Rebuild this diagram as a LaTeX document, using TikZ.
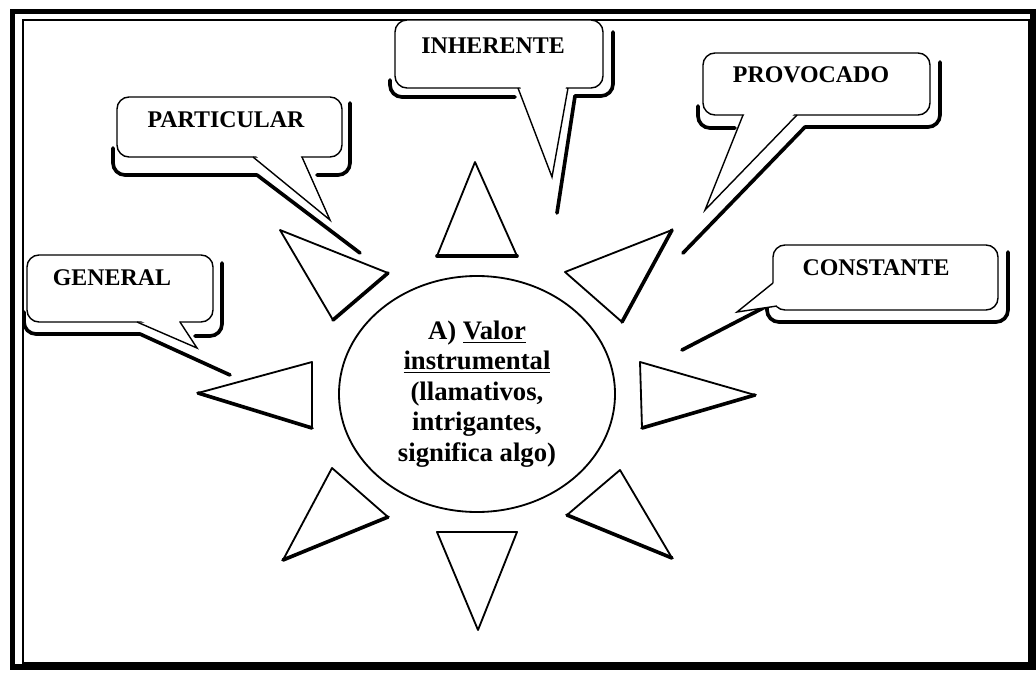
\documentclass[tikz,border=0pt]{standalone}
\usepackage{fontspec}
\setmainfont{Liberation Serif}
\usetikzlibrary{shapes.geometric}

\begin{document}
\begin{tikzpicture}[x=0.25mm,y=-0.25mm,
  marco/.style={line width=4.2pt},
  globo/.style={draw,fill=white,line width=1pt,rounded corners=3mm},
  punta/.style={line width=1pt,line join=miter},
  sombra/.style={line width=2.6pt,line cap=round},
  rayo/.style={line width=1.3pt,line join=round},
  rayoborde/.style={line width=2.6pt,line cap=round},
  rotulo/.style={anchor=base,font=\fontsize{17}{20}\selectfont\bfseries}]
\useasboundingbox (0,0) rectangle (1036,673);
% marco doble
\draw [marco] (12.5,11.5) rectangle (1033,667);
\draw [line width=1.1pt] (23,20) rectangle (1029,663);
% globo GENERAL
\draw [sombra, rounded corners=3mm] (24,312) |- (140,334);
\draw [sombra] (140,334) -- (230,375);
\draw [sombra, rounded corners=3mm] (195,336) -| (222,263);
\draw [globo] (27,255) rectangle (213,322);
\fill [white] (139,320) -- (197,348) -- (178,320) -- cycle;
\draw [punta] (137,322) -- (197,348) -- (180,322);
\node [rotulo] (general) at (112,285) {GENERAL};
% globo PARTICULAR
\draw [sombra, rounded corners=3mm] (113,148) |- (257,175);
\draw [sombra] (257,175) -- (360,253);
\draw [sombra, rounded corners=3mm] (317,175) -| (350,103);
\draw [globo] (117,97) rectangle (342,157);
\fill [white] (255,155) -- (330,220) -- (300,155) -- cycle;
\draw [punta] (253,157) -- (330,220) -- (302,157);
\node [rotulo] (particular) at (226,127) {PARTICULAR};
% globo INHERENTE
\draw [sombra, rounded corners=3mm] (390,80) |- (515,97);
\draw [sombra] (557,213) -- (575,96);
\draw [sombra, rounded corners=3mm] (575,96) -| (613,32);
\draw [globo] (395,20) rectangle (603,88);
\fill [white] (520,86) -- (552,177) -- (566,86) -- cycle;
\draw [punta] (518,88) -- (552,177) -- (568,88);
\node [rotulo] (inherente) at (493,53) {INHERENTE};
% globo PROVOCADO
\draw [sombra, rounded corners=3mm] (698,106) |- (735,128);
\draw [sombra] (683,253) -- (805,127);
\draw [sombra, rounded corners=3mm] (805,127) -| (940,62);
\draw [globo] (703,53) rectangle (930,115);
\fill [white] (745,113) -- (705,210) -- (795,113) -- cycle;
\draw [punta] (743,115) -- (705,210) -- (797,115);
\node [rotulo] (provocado) at (811,82) {PROVOCADO};
% globo CONSTANTE
\draw [sombra] (682,350) -- (767,306);
\draw [sombra, rounded corners=3mm] (767,300) |- (900,322) -| (1008,252);
\draw [globo] (773,245) rectangle (998,310);
\fill [white] (775,282) -- (737,312) -- (779,306) -- cycle;
\draw [punta] (773,283) -- (737,312) -- (777,306);
\node [rotulo] (constante) at (876,275) {CONSTANTE};
% rayos del sol
\draw [rayo] (475,162) -- (437,256) -- (517,256) -- cycle;
\draw [rayoborde] (437,256) -- (517,256);
\draw [rayo] (565,272) -- (672,230) -- (622,322) -- cycle;
\draw [rayoborde] (672,230) -- (622,322);
\draw [rayo] (640,362) -- (755,395) -- (642,428) -- cycle;
\draw [rayoborde] (755,395) -- (642,428);
\draw [rayo] (567,515) -- (620,470) -- (672,558) -- cycle;
\draw [rayoborde] (567,515) -- (672,558);
\draw [rayo] (437,532) -- (517,532) -- (478,630) -- cycle;
\draw [rayo] (332,468) -- (388,517) -- (283,560) -- cycle;
\draw [rayoborde] (388,517) -- (283,560);
\draw [rayo] (312,362) -- (198,393) -- (312,428) -- cycle;
\draw [rayoborde] (198,393) -- (312,428);
\draw [rayo] (280,230) -- (388,273) -- (333,320) -- cycle;
\draw [rayoborde] (388,273) -- (333,320);
% centro
\node [draw, ellipse, line width=1.3pt, minimum width=69mm, minimum height=59mm,
  align=center, font=\fontsize{19}{21.6}\selectfont\bfseries] (valor) at (477,394)
  {A) \underline{Valor}\\ \underline{instrumental}\\ (llamativos,\\ intrigantes,\\ significa algo)};
\end{tikzpicture}
\end{document}
